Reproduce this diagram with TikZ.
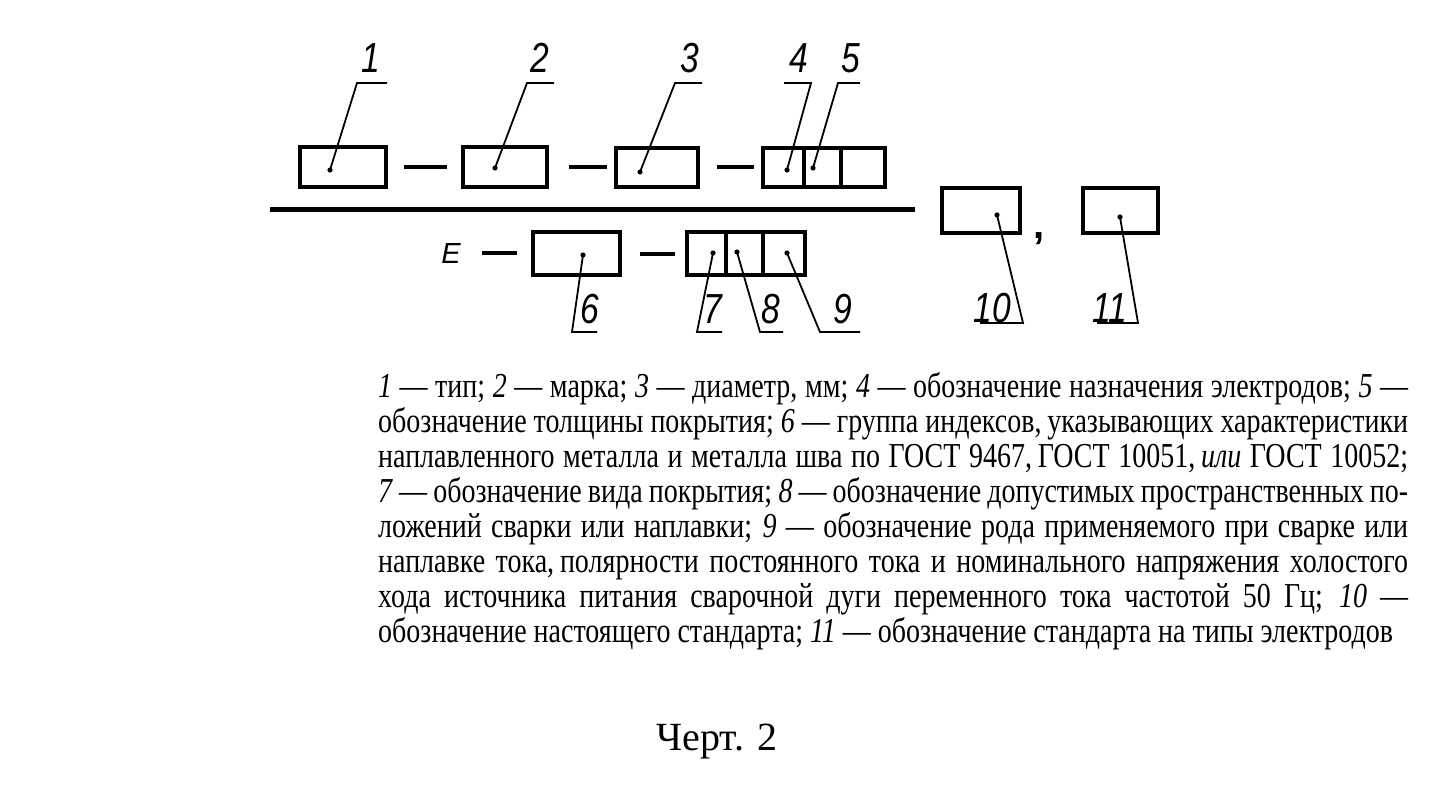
\documentclass[tikz,border=0pt]{standalone}
\usepackage{fontspec}
\setmainfont[FakeStretch=0.80]{Liberation Serif}
\newfontfamily\capfont{Liberation Serif}
\newfontfamily\gostfont[FakeStretch=0.8]{Liberation Sans}
\newfontfamily\gostwide{Liberation Sans}
\begin{document}
\begin{tikzpicture}[x=1pt,y=-1pt,
  box/.style={draw, line width=4.5pt, inner sep=0pt},
  dashln/.style={line width=4pt},
  leader/.style={line width=1.8pt},
  lbl/.style={font=\gostfont\itshape\fontsize{42}{42}\selectfont, inner sep=0pt, anchor=base},
  txt/.style={font=\fontsize{35}{35}\selectfont, inner sep=0pt, anchor=base west}
]
\useasboundingbox[fill=white] (0,0) rectangle (1446,789);

% ---------- numerator row ----------
\node[box, minimum width=86pt, minimum height=40pt] (b1) at (343,167) {};
\node[box, minimum width=84pt, minimum height=40pt] (b2) at (505,167) {};
\node[box, minimum width=82pt, minimum height=39pt] (b3) at (657,167.5) {};
\node[box, minimum width=41pt, minimum height=39pt] (b4) at (783.5,167.5) {};
\node[box, minimum width=37pt, minimum height=39pt] (b5) at (822.5,167.5) {};
\node[box, minimum width=44pt, minimum height=39pt] (b5x) at (863,167.5) {};

\draw[dashln] (b1.east) ++(16,0) coordinate (h1a) -- ++(43,0) coordinate (h1b);
\draw[dashln] (b2.east) ++(20,0) coordinate (h2a) -- ++(38,0) coordinate (h2b);
\draw[dashln] (b3.east) ++(17,0) coordinate (h3a) -- ++(37,0) coordinate (h3b);

% fraction line
\coordinate (fl) at (270,209);
\coordinate (fr) at (915,209);
\draw[line width=5pt] (fl) -- (fr);

% ---------- denominator row ----------
\node[font=\gostwide\itshape\fontsize{29}{29}\selectfont, inner sep=0pt, anchor=base] (E) at (451,263) {E};
\node[box, minimum width=87pt, minimum height=43pt] (b6) at (576.5,253.5) {};
\node[box, minimum width=39pt, minimum height=43pt] (b7) at (706.5,253.5) {};
\node[box, minimum width=37pt, minimum height=43pt] (b8) at (744.5,253.5) {};
\node[box, minimum width=42pt, minimum height=43pt] (b9) at (784,253.5) {};
\coordinate (e1) at (482,253); \coordinate (e2) at (517,253);
\draw[dashln] (e1) -- (e2);
\draw[dashln] (b6.east) ++(18,0) coordinate (h6a) -- ++(35,0) coordinate (h6b);

% ---------- right boxes ----------
\node[box, minimum width=78pt, minimum height=45pt] (b10) at (981,210.5) {};
\node[font=\gostwide\bfseries\fontsize{40}{40}\selectfont, inner sep=0pt, anchor=base] (cm) at (1039,238) {,};
\node[box, minimum width=75pt, minimum height=45pt] (b11) at (1120.5,210.5) {};

% ---------- leaders, top ----------
\coordinate (d1) at (330,170); \coordinate (k1) at (357,83); \coordinate (m1) at (387,83);
\coordinate (d2) at (495,168); \coordinate (k2) at (527,83); \coordinate (m2) at (554,83);
\coordinate (d3) at (640,172); \coordinate (k3) at (675,83); \coordinate (m3) at (702,83);
\coordinate (d4) at (787,170); \coordinate (k4) at (811,83); \coordinate (m4) at (784,83);
\coordinate (d5) at (813,168); \coordinate (k5) at (838,83); \coordinate (m5) at (860,83);
\foreach \i in {1,...,5}{
  \fill (d\i) circle (2.6pt);
  \draw[leader] (d\i) -- (k\i) -- (m\i);
}
\node[lbl] (l1) at (371,73) {1};
\node[lbl] (l2) at (540,73) {2};
\node[lbl] (l3) at (690,73) {3};
\node[lbl] (l4) at (799,73) {4};
\node[lbl] (l5) at (851,73) {5};

% ---------- leaders, bottom ----------
\coordinate (d6) at (583,255); \coordinate (k6) at (572,332); \coordinate (m6) at (597,332);
\coordinate (d7) at (713,253); \coordinate (k7) at (697,332); \coordinate (m7) at (722,332);
\coordinate (d8) at (737,252); \coordinate (k8) at (760,332); \coordinate (m8) at (783,332);
\coordinate (d9) at (787,253); \coordinate (k9) at (820,332); \coordinate (m9) at (860,332);
\coordinate (d10) at (997,215); \coordinate (k10) at (1023,323); \coordinate (m10) at (980,323);
\coordinate (d11) at (1120,217); \coordinate (k11) at (1138,323); \coordinate (m11) at (1097,323);
\foreach \i in {6,...,11}{
  \fill (d\i) circle (2.6pt);
  \draw[leader] (d\i) -- (k\i) -- (m\i);
}
\node[lbl] (l6) at (590,323) {6};
\node[lbl] (l7) at (713,323) {7};
\node[lbl] (l8) at (771,323) {8};
\node[lbl] (l9) at (843,323) {9};
\node[lbl] (l10) at (992,322) {10};
\node[lbl] (l11) at (1110,322) {11};

% ---------- legend text ----------
\node[txt] (t1) at (378,397) {\makebox[1030pt][s]{\textit{1} — тип; \textit{2} — марка; \textit{3} — диаметр, мм; \textit{4} — обозначение назначения электродов; \textit{5} —}};
\node[txt] (t2) at (378,432) {\makebox[1030pt][s]{обозначение толщины покрытия; \textit{6} — группа индексов,\,указывающих характеристики}};
\node[txt] (t3) at (378,467) {\makebox[1030pt][s]{наплавленного металла и металла шва по ГОСТ 9467,\,ГОСТ 10051,\,\textit{или} ГОСТ 10052;}};
\node[txt] (t4) at (378,502) {\makebox[1030pt][s]{\textit{7} — обозначение вида покрытия; \textit{8} — обозначение допустимых пространственных по-}};
\node[txt] (t5) at (378,537) {\makebox[1030pt][s]{ложений сварки или наплавки; \textit{9} — обозначение рода применяемого при сварке или}};
\node[txt] (t6) at (378,572) {\makebox[1030pt][s]{наплавке тока,\,полярности постоянного тока и номинального напряжения холостого}};
\node[txt] (t7) at (378,607) {\makebox[1030pt][s]{хода источника питания сварочной дуги переменного тока частотой 50 Гц; \textit{10} —}};
\node[txt] (t8) at (378,642) {обозначение настоящего стандарта; \textit{11} — обозначение стандарта на типы электродов};

\node[font=\capfont\fontsize{40}{40}\selectfont, inner sep=0pt, anchor=base] (cap) at (717,750) {Черт. 2};
\end{tikzpicture}
\end{document}
